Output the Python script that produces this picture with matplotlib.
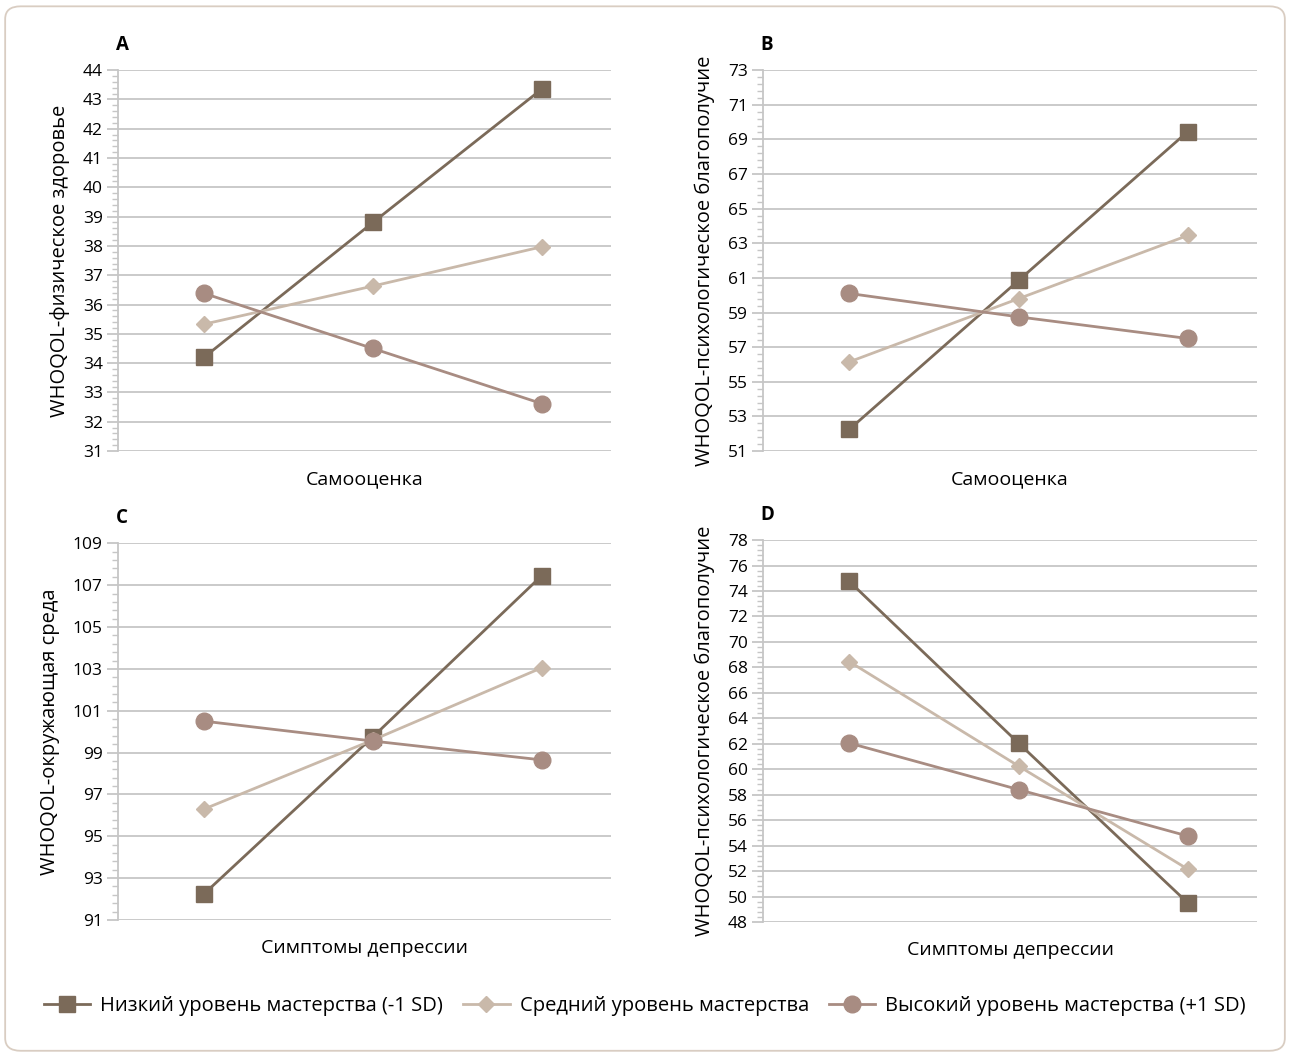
import matplotlib
matplotlib.use("Agg")
import matplotlib.pyplot as plt
from matplotlib.ticker import AutoMinorLocator
from matplotlib.patches import FancyBboxPatch
from matplotlib.lines import Line2D

plt.rcParams['font.family'] = ['Open Sans', 'DejaVu Sans']

# data
cats = [0, 1, 2]
series_names = ["Низкий уровень мастерства (-1 SD)",
                "Средний уровень мастерства",
                "Высокий уровень мастерства (+1 SD)"]

a_low = [34.2, 38.8, 43.35]
a_mid = [35.33, 36.63, 37.97]
a_high = [36.38, 34.5, 32.62]

b_low = [52.25, 60.85, 69.45]
b_mid = [56.15, 59.8, 63.45]
b_high = [60.1, 58.75, 57.5]

c_low = [92.25, 99.75, 107.45]
c_mid = [96.3, 99.6, 103.05]
c_high = [100.5, 99.55, 98.65]

d_low = [74.75, 62.05, 49.5]
d_mid = [68.45, 60.25, 52.15]
d_high = [62.05, 58.4, 54.75]

colors = ['#7b6a59', '#c9b9aa', '#a88c82']
markers = ['s', 'D', 'o']
msizes = [12, 8, 12]

panels = [
    ("A", [a_low, a_mid, a_high], (31, 44), 1, "WHOQOL-физическое здоровье", "Самооценка",
     [0.0915, 0.5725, 0.382, 0.361]),
    ("B", [b_low, b_mid, b_high], (51, 73), 2, "WHOQOL-психологическое благополучие", "Самооценка",
     [0.5915, 0.5725, 0.383, 0.361]),
    ("C", [c_low, c_mid, c_high], (91, 109), 2, "WHOQOL-окружающая среда", "Симптомы депрессии",
     [0.0915, 0.128, 0.382, 0.357]),
    ("D", [d_low, d_mid, d_high], (48, 78), 2, "WHOQOL-психологическое благополучие", "Симптомы депрессии",
     [0.5915, 0.1261, 0.383, 0.362]),
]

fig = plt.figure(figsize=(12.9, 10.55), dpi=100)

# rounded border round the whole figure
border = FancyBboxPatch((0.004, 0.004), 0.992, 0.99, boxstyle="round,pad=0,rounding_size=0.012",
                        transform=fig.transFigure, fill=False, edgecolor='#d9cdc2', linewidth=1.3)
fig.patches.append(border)

grid_col = '#c6c6c6'
for letter, data, ylim, step, ylab, xlab, pos in panels:
    ax = fig.add_axes(pos)
    for vals, c, m, ms in zip(data, colors, markers, msizes):
        ax.plot(cats, vals, color=c, lw=2, marker=m, markersize=ms, zorder=3)
    ax.set_xlim(-0.51, 2.41)
    ax.set_ylim(*ylim)
    ax.set_yticks(range(ylim[0], ylim[1] + 1, step))
    ax.yaxis.set_minor_locator(AutoMinorLocator(5))
    ax.yaxis.grid(True, color=grid_col, lw=1.3, zorder=0)
    ax.set_xticks([])
    for s in ['top', 'right', 'bottom']:
        ax.spines[s].set_visible(False)
    ax.spines['left'].set_color(grid_col)
    ax.spines['left'].set_linewidth(1.3)
    ax.tick_params(axis='y', which='major', length=8, width=1.3, color=grid_col,
                   labelsize=12.5, pad=3)
    ax.tick_params(axis='y', which='minor', length=4, width=1, color=grid_col)
    ax.set_ylabel(ylab, fontsize=14.5, labelpad=9)
    ax.set_xlabel(xlab, fontsize=14, labelpad=14)
    ax.text(-0.005, 1.04, letter, transform=ax.transAxes, fontsize=13.5, fontweight='bold',
            ha='left', va='bottom')

handles = [Line2D([], [], color=c, lw=2, marker=m, markersize=ms)
           for c, m, ms in zip(colors, markers, msizes)]
fig.legend(handles, series_names, loc='center', bbox_to_anchor=(0.5, 0.046), ncol=3,
           frameon=False, fontsize=14.5, handlelength=2.3, columnspacing=1.0, handletextpad=0.5)

fig.savefig("out.png", dpi=100)
